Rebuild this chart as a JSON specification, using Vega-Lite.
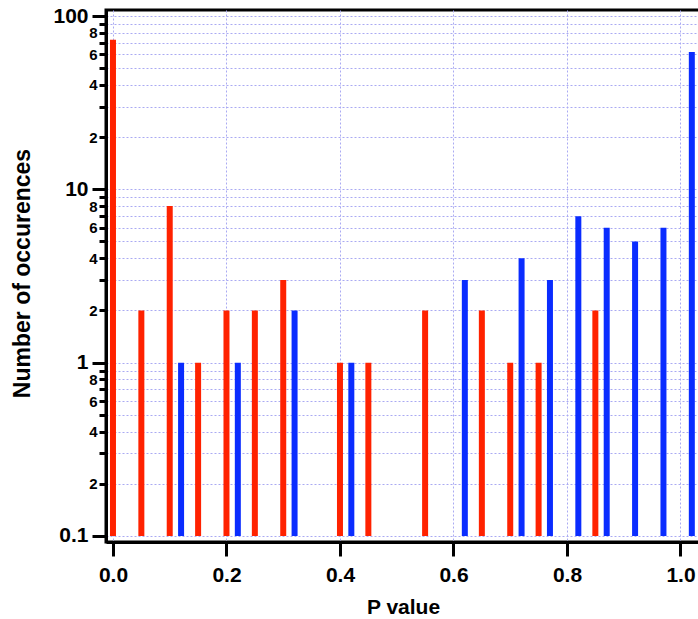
{
  "$schema": "https://vega.github.io/schema/vega-lite/v6.json",
  "width": 594,
  "height": 532,
  "autosize": "none",
  "padding": {"left": 106, "top": 10, "right": 0, "bottom": 77},
  "background": "white",
  "config": {
    "view": {"stroke": "black", "strokeWidth": 3},
    "font": "Liberation Sans"
  },
  "data": {
    "values": [
      {"p": 0.00, "n": 73, "group": "red"},
      {"p": 0.05, "n": 2, "group": "red"},
      {"p": 0.10, "n": 8, "group": "red"},
      {"p": 0.12, "n": 1, "group": "blue"},
      {"p": 0.15, "n": 1, "group": "red"},
      {"p": 0.20, "n": 2, "group": "red"},
      {"p": 0.22, "n": 1, "group": "blue"},
      {"p": 0.25, "n": 2, "group": "red"},
      {"p": 0.30, "n": 3, "group": "red"},
      {"p": 0.32, "n": 2, "group": "blue"},
      {"p": 0.40, "n": 1, "group": "red"},
      {"p": 0.42, "n": 1, "group": "blue"},
      {"p": 0.45, "n": 1, "group": "red"},
      {"p": 0.55, "n": 2, "group": "red"},
      {"p": 0.62, "n": 3, "group": "blue"},
      {"p": 0.65, "n": 2, "group": "red"},
      {"p": 0.70, "n": 1, "group": "red"},
      {"p": 0.72, "n": 4, "group": "blue"},
      {"p": 0.75, "n": 1, "group": "red"},
      {"p": 0.77, "n": 3, "group": "blue"},
      {"p": 0.82, "n": 7, "group": "blue"},
      {"p": 0.85, "n": 2, "group": "red"},
      {"p": 0.87, "n": 6, "group": "blue"},
      {"p": 0.92, "n": 5, "group": "blue"},
      {"p": 0.97, "n": 6, "group": "blue"},
      {"p": 1.02, "n": 62, "group": "blue"}
    ]
  },
  "mark": {"type": "bar", "size": 6},
  "encoding": {
    "x": {
      "field": "p",
      "type": "quantitative",
      "scale": {"domain": [-0.0123, 1.0344], "nice": false, "zero": false, "padding": 0},
      "axis": {
        "title": "P value",
        "values": [0, 0.2, 0.4, 0.6, 0.8, 1.0],
        "format": ".1f",
        "grid": true,
        "gridColor": "#aaaaf2",
        "gridDash": [2, 2],
        "gridWidth": 1,
        "domainColor": "black",
        "domainWidth": 3,
        "tickColor": "black",
        "tickWidth": 3,
        "tickSize": 14,
        "labelFont": "Liberation Sans",
        "labelFontWeight": "bold",
        "labelFontSize": 21,
        "labelColor": "black",
        "labelPadding": 8,
        "labelFlush": false,
        "labelBound": false,
        "titleFont": "Liberation Sans",
        "titleFontWeight": "bold",
        "titleFontSize": 21,
        "titleColor": "black",
        "titleY": 54,
        "titleBaseline": "top"
      }
    },
    "y": {
      "field": "n",
      "type": "quantitative",
      "scale": {"type": "log", "domain": [0.0923, 108.3], "nice": false, "zero": false, "padding": 0},
      "axis": {
        "title": "Number of occurences",
        "values": [0.1, 0.2, 0.3, 0.4, 0.5, 0.6, 0.7, 0.8, 0.9, 1, 2, 3, 4, 5, 6, 7, 8, 9, 10, 20, 30, 40, 50, 60, 70, 80, 90, 100],
        "labelExpr": "datum.value == 0.1 ? '0.1' : datum.value == 1 ? '1' : datum.value == 10 ? '10' : datum.value == 100 ? '100' : indexof([0.2, 2, 20], datum.value) >= 0 ? '2' : indexof([0.4, 4, 40], datum.value) >= 0 ? '4' : indexof([0.6, 6, 60], datum.value) >= 0 ? '6' : indexof([0.8, 8, 80], datum.value) >= 0 ? '8' : ''",
        "grid": true,
        "gridColor": "#aaaaf2",
        "gridDash": [2, 2],
        "gridWidth": 1,
        "domainColor": "black",
        "domainWidth": 3,
        "tickColor": "black",
        "tickWidth": 3,
        "tickSize": {"condition": {"test": "indexof([0.1, 1, 10, 100], datum.value) >= 0", "value": 14}, "value": 7},
        "labelFont": "Liberation Sans",
        "labelFontWeight": "bold",
        "labelFontSize": {"condition": {"test": "indexof([0.1, 1, 10, 100], datum.value) >= 0", "value": 21}, "value": 15},
        "labelPadding": {"condition": {"test": "indexof([0.1, 1, 10, 100], datum.value) >= 0", "value": 4}, "value": 2},
        "labelColor": "black",
        "labelBaseline": "middle",
        "labelOverlap": false,
        "labelBound": false,
        "labelFlush": false,
        "titleFont": "Liberation Sans",
        "titleFontWeight": "bold",
        "titleFontSize": 23,
        "titleColor": "black",
        "titleX": -84,
        "titleY": 263,
        "titleAngle": -90,
        "titleAlign": "center",
        "titleBaseline": "middle"
      }
    },
    "y2": {"datum": 0.1},
    "color": {
      "field": "group",
      "type": "nominal",
      "scale": {"domain": ["red", "blue"], "range": ["#ff2200", "#0a2cff"]},
      "legend": null
    }
  }
}
